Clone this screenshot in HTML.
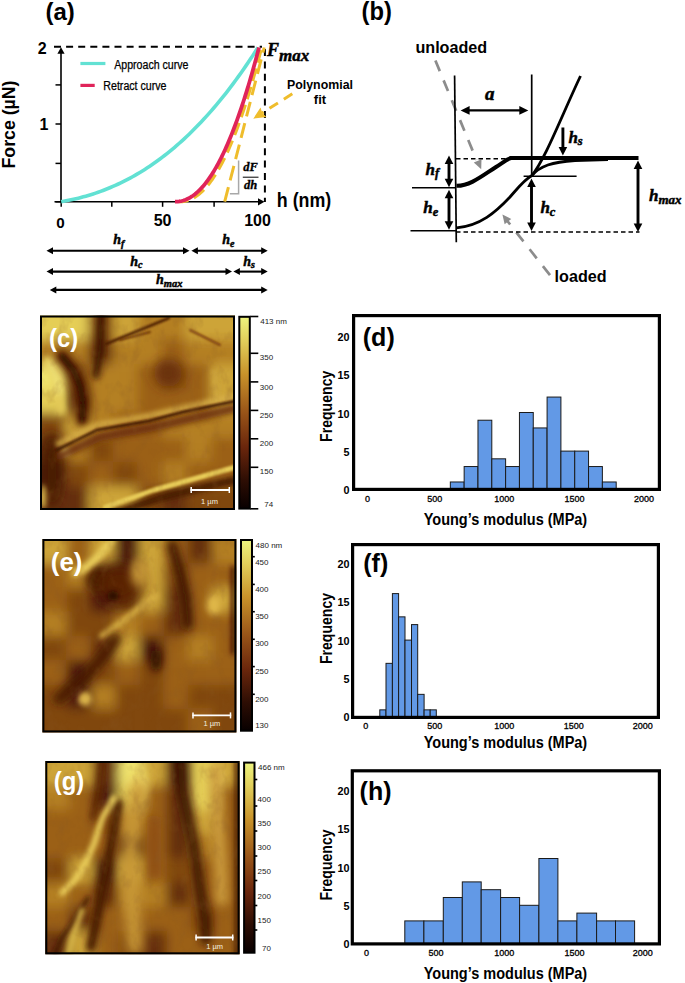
<!DOCTYPE html><html><head><meta charset="utf-8"><title>Nanoindentation figure</title><style>html,body{margin:0;padding:0;background:#fff;}body{width:685px;height:983px;overflow:hidden;position:relative;}svg{position:absolute;left:0;top:0;}</style></head><body>
<svg width="685" height="983" viewBox="0 0 685 983">
<defs>
<linearGradient id="cb" x1="0" y1="0" x2="0" y2="1">
<stop offset="0" stop-color="#eef47e"/><stop offset="0.12" stop-color="#e2d05c"/><stop offset="0.3" stop-color="#c8922a"/><stop offset="0.5" stop-color="#985418"/><stop offset="0.68" stop-color="#6a260c"/><stop offset="0.85" stop-color="#2e0e04"/><stop offset="1" stop-color="#080000"/>
</linearGradient>
<filter id="b1" filterUnits="userSpaceOnUse" x="0" y="290" width="300" height="693"><feGaussianBlur stdDeviation="1.2"/></filter>
<filter id="b2" filterUnits="userSpaceOnUse" x="0" y="290" width="300" height="693"><feGaussianBlur stdDeviation="2.5"/></filter>
<filter id="b4" filterUnits="userSpaceOnUse" x="0" y="290" width="300" height="693"><feGaussianBlur stdDeviation="4"/></filter>
<filter id="b6" filterUnits="userSpaceOnUse" x="0" y="290" width="300" height="693"><feGaussianBlur stdDeviation="6"/></filter>
<filter id="b3" filterUnits="userSpaceOnUse" x="0" y="290" width="300" height="693"><feGaussianBlur stdDeviation="3"/></filter>
<filter id="b5" filterUnits="userSpaceOnUse" x="0" y="290" width="300" height="693"><feGaussianBlur stdDeviation="5"/></filter>
<filter id="b8" filterUnits="userSpaceOnUse" x="0" y="290" width="300" height="693"><feGaussianBlur stdDeviation="8"/></filter>
<filter id="b12" filterUnits="userSpaceOnUse" x="0" y="290" width="300" height="693"><feGaussianBlur stdDeviation="12"/></filter>
<filter id="b10" filterUnits="userSpaceOnUse" x="0" y="290" width="300" height="693"><feGaussianBlur stdDeviation="10"/></filter>
<filter id="tex" filterUnits="userSpaceOnUse" x="0" y="300" width="250" height="683"><feTurbulence type="fractalNoise" baseFrequency="0.09 0.06" numOctaves="3" seed="7" result="n"/><feColorMatrix in="n" type="matrix" values="0 0 0 0 0.25  0 0 0 0 0.1  0 0 0 0 0.02  1.6 0 0 0 -0.78" /></filter>
<filter id="tex2" filterUnits="userSpaceOnUse" x="0" y="300" width="250" height="683"><feTurbulence type="fractalNoise" baseFrequency="0.07 0.05" numOctaves="3" seed="21" result="n"/><feColorMatrix in="n" type="matrix" values="0 0 0 0 0.95  0 0 0 0 0.8  0 0 0 0 0.35  0 1.4 0 0 -0.78" /></filter>
<clipPath id="cc"><rect x="40" y="315.5" width="195" height="194.5"/></clipPath>
<clipPath id="ce"><rect x="42.4" y="539" width="194" height="193.4"/></clipPath>
<clipPath id="cg"><rect x="45.3" y="761" width="194.3" height="193.3"/></clipPath>
</defs>
<text x="45.5" y="19.8" style="font-family:&quot;Liberation Sans&quot;,sans-serif;font-size:24px;font-weight:bold;" text-anchor="start" fill="#000">(a)</text>
<line x1="61" y1="202.5" x2="61" y2="53" stroke="#000" stroke-width="1.6"/>
<polygon points="61,47.2 64.6,53.7 57.4,53.7" fill="#000"/>
<line x1="54.5" y1="201.8" x2="258" y2="201.8" stroke="#000" stroke-width="1.6"/>
<polygon points="264.5,201.8 258,205.4 258,198.2" fill="#000"/>
<line x1="55.5" y1="84.9" x2="61" y2="84.9" stroke="#000" stroke-width="1.5"/>
<line x1="55.5" y1="124" x2="61" y2="124" stroke="#000" stroke-width="1.5"/>
<line x1="55.5" y1="163.4" x2="61" y2="163.4" stroke="#000" stroke-width="1.5"/>
<line x1="55.5" y1="201.8" x2="61" y2="201.8" stroke="#000" stroke-width="1.5"/>
<line x1="61.2" y1="201.8" x2="61.2" y2="206.8" stroke="#000" stroke-width="1.5"/>
<line x1="111.8" y1="201.8" x2="111.8" y2="206.8" stroke="#000" stroke-width="1.5"/>
<line x1="162.6" y1="201.8" x2="162.6" y2="206.8" stroke="#000" stroke-width="1.5"/>
<line x1="214.1" y1="201.8" x2="214.1" y2="206.8" stroke="#000" stroke-width="1.5"/>
<line x1="54" y1="46.8" x2="262" y2="46.8" stroke="#000" stroke-width="2" stroke-dasharray="7 5.1"/>
<line x1="264.9" y1="49" x2="264.9" y2="202" stroke="#000" stroke-width="2" stroke-dasharray="7 5.4"/>
<text x="42.3" y="53.6" style="font-family:&quot;Liberation Sans&quot;,sans-serif;font-size:16px;font-weight:bold;" text-anchor="middle" fill="#000">2</text>
<text x="44" y="129.8" style="font-family:&quot;Liberation Sans&quot;,sans-serif;font-size:16px;font-weight:bold;" text-anchor="middle" fill="#000">1</text>
<text x="60.6" y="228.3" style="font-family:&quot;Liberation Sans&quot;,sans-serif;font-size:15.2px;font-weight:bold;" text-anchor="middle" fill="#000">0</text>
<text x="162.6" y="225.5" style="font-family:&quot;Liberation Sans&quot;,sans-serif;font-size:16px;font-weight:bold;" text-anchor="middle" fill="#000">50</text>
<text x="257.5" y="225.5" style="font-family:&quot;Liberation Sans&quot;,sans-serif;font-size:16px;font-weight:bold;" text-anchor="middle" fill="#000">100</text>
<text x="276.8" y="207.3" style="font-family:&quot;Liberation Sans&quot;,sans-serif;font-size:19.5px;font-weight:bold;" text-anchor="start" fill="#000" textLength="54.5" lengthAdjust="spacingAndGlyphs">h (nm)</text>
<text transform="translate(14.8,124.5) rotate(-90)" x="0" y="0" text-anchor="middle" style="font-family:&quot;Liberation Sans&quot;,sans-serif;font-size:18.4px;font-weight:bold" textLength="88" lengthAdjust="spacingAndGlyphs">Force (µN)</text>
<line x1="80.4" y1="63.5" x2="105.4" y2="63.5" stroke="#62e1d3" stroke-width="3.2"/>
<line x1="80.4" y1="85.4" x2="94.7" y2="85.4" stroke="#e0245a" stroke-width="3.2"/>
<text x="114.2" y="69.2" style="font-family:&quot;Liberation Sans&quot;,sans-serif;font-size:12px;font-weight:normal;" text-anchor="start" fill="#000" textLength="74.3" lengthAdjust="spacingAndGlyphs" stroke="#000" stroke-width="0.25">Approach curve</text>
<text x="103.3" y="89.6" style="font-family:&quot;Liberation Sans&quot;,sans-serif;font-size:12px;font-weight:normal;" text-anchor="start" fill="#000" textLength="63.2" lengthAdjust="spacingAndGlyphs" stroke="#000" stroke-width="0.25">Retract curve</text>
<path d="M61.2,201.7 L63.66,201.28 L66.12,200.82 L68.58,200.34 L71.04,199.83 L73.5,199.3 L75.96,198.73 L78.42,198.13 L80.88,197.51 L83.34,196.85 L85.8,196.17 L88.26,195.45 L90.72,194.7 L93.18,193.92 L95.64,193.1 L98.1,192.26 L100.56,191.38 L103.02,190.46 L105.48,189.51 L107.94,188.53 L110.4,187.52 L112.86,186.46 L115.32,185.38 L117.78,184.25 L120.24,183.09 L122.7,181.9 L125.16,180.66 L127.62,179.39 L130.08,178.08 L132.54,176.73 L135,175.34 L137.46,173.92 L139.92,172.45 L142.38,170.95 L144.84,169.4 L147.3,167.81 L149.76,166.18 L152.22,164.51 L154.68,162.8 L157.14,161.04 L159.6,159.25 L162.06,157.41 L164.52,155.52 L166.98,153.59 L169.44,151.62 L171.9,149.6 L174.36,147.54 L176.82,145.43 L179.28,143.27 L181.74,141.07 L184.2,138.82 L186.66,136.52 L189.12,134.18 L191.58,131.79 L194.04,129.34 L196.5,126.85 L198.96,124.31 L201.42,121.73 L203.88,119.09 L206.34,116.4 L208.8,113.65 L211.26,110.86 L213.72,108.02 L216.18,105.12 L218.64,102.17 L221.1,99.17 L223.56,96.11 L226.02,93.01 L228.48,89.84 L230.94,86.62 L233.4,83.35 L235.86,80.02 L238.32,76.64 L240.78,73.2 L243.24,69.7 L245.7,66.14 L248.16,62.53 L250.62,58.86 L253.08,55.13 L255.54,51.35 L258,47.5" fill="none" stroke="#62e1d3" stroke-width="3.6"/>
<line x1="224.7" y1="201.7" x2="264.2" y2="47.5" stroke="#efbd2c" stroke-width="3" stroke-dasharray="15 7"/>
<path d="M179.5,201.7 L180.87,201.67 L182.23,201.58 L183.6,201.41 L184.97,201.18 L186.33,200.86 L187.7,200.48 L189.07,200.01 L190.43,199.46 L191.8,198.83 L193.17,198.12 L194.53,197.33 L195.9,196.45 L197.27,195.49 L198.63,194.44 L200,193.31 L201.37,192.09 L202.73,190.79 L204.1,189.4 L205.47,187.92 L206.83,186.35 L208.2,184.69 L209.57,182.95 L210.93,181.11 L212.3,179.19 L213.67,177.17 L215.03,175.07 L216.4,172.87 L217.77,170.58 L219.13,168.2 L220.5,165.73 L221.87,163.17 L223.23,160.51 L224.6,157.76 L225.97,154.92 L227.33,151.98 L228.7,148.95 L230.07,145.83 L231.43,142.61 L232.8,139.3 L234.17,135.89 L235.53,132.39 L236.9,128.79 L238.27,125.1 L239.63,121.31 L241,117.42 L242.37,113.44 L243.73,109.36 L245.1,105.19 L246.47,100.92 L247.83,96.55 L249.2,92.09 L250.57,87.52 L251.93,82.86 L253.3,78.11 L254.67,73.25 L256.03,68.3 L257.4,63.25 L258.77,58.1 L260.13,52.85 L261.5,47.5" fill="none" stroke="#efbd2c" stroke-width="3.4" stroke-dasharray="13 6" stroke-dashoffset="4"/>
<path d="M175,201.7 L176.05,201.68 L177.1,201.63 L178.15,201.54 L179.2,201.41 L180.25,201.24 L181.3,201.03 L182.35,200.77 L183.4,200.48 L184.45,200.13 L185.5,199.74 L186.55,199.31 L187.6,198.83 L188.65,198.3 L189.7,197.73 L190.75,197.11 L191.8,196.45 L192.85,195.74 L193.9,194.98 L194.95,194.17 L196,193.31 L197.05,192.4 L198.1,191.45 L199.15,190.45 L200.2,189.4 L201.25,188.29 L202.3,187.14 L203.35,185.94 L204.4,184.69 L205.45,183.39 L206.5,182.04 L207.55,180.64 L208.6,179.19 L209.65,177.69 L210.7,176.13 L211.75,174.53 L212.8,172.87 L213.85,171.16 L214.9,169.4 L215.95,167.59 L217,165.73 L218.05,163.82 L219.1,161.85 L220.15,159.83 L221.2,157.76 L222.25,155.64 L223.3,153.46 L224.35,151.23 L225.4,148.95 L226.45,146.62 L227.5,144.23 L228.55,141.79 L229.6,139.3 L230.65,136.75 L231.7,134.15 L232.75,131.5 L233.8,128.79 L234.85,126.03 L235.9,123.21 L236.95,120.34 L238,117.42 L239.05,114.45 L240.1,111.41 L241.15,108.33 L242.2,105.19 L243.25,102 L244.3,98.75 L245.35,95.44 L246.4,92.09 L247.45,88.67 L248.5,85.21 L249.55,81.68 L250.6,78.11 L251.65,74.47 L252.7,70.79 L253.75,67.04 L254.8,63.25 L255.85,59.39 L256.9,55.48 L257.95,51.52 L259,47.5" fill="none" stroke="#e0245a" stroke-width="3.8"/>
<polyline points="229.9,193.7 238.6,193.7 238.6,160.6" fill="none" stroke="#a8a8a8" stroke-width="1.5"/>
<text x="250.6" y="171.2" style="font-family:&quot;Liberation Serif&quot;,serif;font-size:12.5px;font-weight:bold;font-style:italic;" text-anchor="middle" fill="#000" stroke="#000" stroke-width="0.35">dF</text>
<line x1="242.8" y1="177.2" x2="258.5" y2="177.2" stroke="#000" stroke-width="1"/>
<text x="250.6" y="188.6" style="font-family:&quot;Liberation Serif&quot;,serif;font-size:12.5px;font-weight:bold;font-style:italic;" text-anchor="middle" fill="#000" stroke="#000" stroke-width="0.35">dh</text>
<text x="267" y="56" style="font-family:&quot;Liberation Serif&quot;,serif;font-size:18px;font-weight:bold;font-style:italic" stroke="#000" stroke-width="0.45">F<tspan dy="4.5" style="font-size:17px">max</tspan></text>
<text x="320" y="88.6" style="font-family:&quot;Liberation Sans&quot;,sans-serif;font-size:13px;font-weight:bold;" text-anchor="middle" fill="#000" textLength="66" lengthAdjust="spacingAndGlyphs">Polynomial</text>
<text x="320" y="104" style="font-family:&quot;Liberation Sans&quot;,sans-serif;font-size:13px;font-weight:bold;" text-anchor="middle" fill="#000">fit</text>
<line x1="292.3" y1="93.8" x2="262" y2="113" stroke="#efbd2c" stroke-width="3" stroke-dasharray="10 7"/>
<polygon points="253.3,118.7 260.52,107.6 262.26,113.11 266.45,117.1" fill="#efbd2c"/>
<line x1="51.7" y1="250.8" x2="184.3" y2="250.8" stroke="#000" stroke-width="2.1"/><polygon points="189.5,250.8 183,254.3 183,247.3" fill="#000"/><polygon points="46.5,250.8 53,247.3 53,254.3" fill="#000"/>
<line x1="196.6" y1="250.8" x2="262.5" y2="250.8" stroke="#000" stroke-width="2.1"/><polygon points="267.7,250.8 261.2,254.3 261.2,247.3" fill="#000"/><polygon points="191.4,250.8 197.9,247.3 197.9,254.3" fill="#000"/>
<line x1="51.7" y1="271.6" x2="226.8" y2="271.6" stroke="#000" stroke-width="2.1"/><polygon points="232,271.6 225.5,275.1 225.5,268.1" fill="#000"/><polygon points="46.5,271.6 53,268.1 53,275.1" fill="#000"/>
<line x1="238.6" y1="271.6" x2="262.5" y2="271.6" stroke="#000" stroke-width="2.1"/><polygon points="267.7,271.6 261.2,275.1 261.2,268.1" fill="#000"/><polygon points="233.4,271.6 239.9,268.1 239.9,275.1" fill="#000"/>
<line x1="55" y1="289.9" x2="262.5" y2="289.9" stroke="#000" stroke-width="2.1"/><polygon points="267.7,289.9 261.2,293.4 261.2,286.4" fill="#000"/><polygon points="49.8,289.9 56.3,286.4 56.3,293.4" fill="#000"/>
<text x="113.2" y="244.3" style="font-family:&quot;Liberation Serif&quot;,serif;font-size:14px;font-weight:bold;font-style:italic" stroke="#000" stroke-width="0.45">h<tspan dy="2.2" style="font-size:10px">f</tspan></text>
<text x="222.3" y="244.3" style="font-family:&quot;Liberation Serif&quot;,serif;font-size:14px;font-weight:bold;font-style:italic" stroke="#000" stroke-width="0.45">h<tspan dy="2.2" style="font-size:10px">e</tspan></text>
<text x="130.2" y="265.6" style="font-family:&quot;Liberation Serif&quot;,serif;font-size:14px;font-weight:bold;font-style:italic" stroke="#000" stroke-width="0.45">h<tspan dy="2.2" style="font-size:10px">c</tspan></text>
<text x="243.3" y="265.6" style="font-family:&quot;Liberation Serif&quot;,serif;font-size:14px;font-weight:bold;font-style:italic" stroke="#000" stroke-width="0.45">h<tspan dy="2.2" style="font-size:10px">s</tspan></text>
<text x="156" y="284.3" style="font-family:&quot;Liberation Serif&quot;,serif;font-size:14px;font-weight:bold;font-style:italic" stroke="#000" stroke-width="0.45">h<tspan dy="2.2" style="font-size:10.5px">max</tspan></text>
<text x="361.6" y="19.5" style="font-family:&quot;Liberation Sans&quot;,sans-serif;font-size:25.5px;font-weight:bold;" text-anchor="start" fill="#000" textLength="30.3" lengthAdjust="spacingAndGlyphs">(b)</text>
<text x="415.4" y="53.4" style="font-family:&quot;Liberation Sans&quot;,sans-serif;font-size:16px;font-weight:bold;" text-anchor="start" fill="#000" textLength="71.8" lengthAdjust="spacingAndGlyphs">unloaded</text>
<text x="554.6" y="282" style="font-family:&quot;Liberation Sans&quot;,sans-serif;font-size:16px;font-weight:bold;" text-anchor="start" fill="#000" textLength="52" lengthAdjust="spacingAndGlyphs">loaded</text>
<line x1="435.4" y1="60.5" x2="476.5" y2="160" stroke="#8c8c8c" stroke-width="2.7" stroke-dasharray="11.5 10"/>
<polygon points="481.2,169.2 473.79,162.59 481.5,159.27" fill="#8c8c8c"/>
<line x1="550" y1="275.2" x2="507" y2="220.5" stroke="#8c8c8c" stroke-width="2.7" stroke-dasharray="11.5 10"/>
<polygon points="502.4,214.5 511.26,218.99 504.65,224.17" fill="#8c8c8c"/>
<line x1="454.6" y1="75.5" x2="456.3" y2="242.3" stroke="#000" stroke-width="1.7"/>
<line x1="531.7" y1="74.5" x2="531.7" y2="176" stroke="#000" stroke-width="1.7"/>
<line x1="467.8" y1="110.4" x2="521.1" y2="110.4" stroke="#000" stroke-width="2.3"/><polygon points="528.3,110.4 519.3,114.8 519.3,106" fill="#000"/><polygon points="460.6,110.4 469.6,106 469.6,114.8" fill="#000"/>
<text x="485" y="100.2" style="font-family:&quot;Liberation Serif&quot;,serif;font-size:19px;font-weight:bold;font-style:italic" stroke="#000" stroke-width="0.5">a<tspan dy="4.18" style="font-size:13.68px"></tspan></text>
<line x1="412" y1="187.8" x2="456" y2="187.8" stroke="#000" stroke-width="1.6"/>
<line x1="410.5" y1="230.7" x2="456" y2="230.7" stroke="#000" stroke-width="1.6"/>
<line x1="523.6" y1="176.2" x2="576.6" y2="176.2" stroke="#000" stroke-width="1.6"/>
<line x1="456" y1="158.8" x2="511" y2="158.8" stroke="#000" stroke-width="1.5" stroke-dasharray="4.5 3"/>
<line x1="456" y1="231.9" x2="639.5" y2="231.9" stroke="#000" stroke-width="1.5" stroke-dasharray="4.5 3"/>
<path d="M456.5,185.8 C470,186 482,176 496,167 C503,162.5 507,159 511,158 L638.5,158" fill="none" stroke="#000" stroke-width="4"/>
<path d="M456.5,227.8 C480,226 496,212 510,197 C518,188 524,180 531.6,175.8 C545,160 562,115 580.5,76" fill="none" stroke="#000" stroke-width="2.8"/>
<path d="M531.6,175.8 C540,166 552,162 575,160.5 L608,159.5" fill="none" stroke="#000" stroke-width="2.8"/>
<line x1="449" y1="162.3" x2="449" y2="180.5" stroke="#000" stroke-width="2.9"/><polygon points="449,187.3 444.7,178.8 453.3,178.8" fill="#000"/><polygon points="449,155.5 453.3,164 444.7,164" fill="#000"/>
<line x1="449" y1="196.5" x2="449" y2="223" stroke="#000" stroke-width="2.9"/><polygon points="449,229.8 444.7,221.3 453.3,221.3" fill="#000"/><polygon points="449,189.7 453.3,198.2 444.7,198.2" fill="#000"/>
<line x1="531.5" y1="185.4" x2="531.5" y2="224.2" stroke="#000" stroke-width="2.9"/><polygon points="531.5,231 527.2,222.5 535.8,222.5" fill="#000"/><polygon points="531.5,178.6 535.8,187.1 527.2,187.1" fill="#000"/>
<line x1="562.9" y1="127.5" x2="562.9" y2="148.7" stroke="#000" stroke-width="2.9"/><polygon points="562.9,155.5 558.6,147 567.2,147" fill="#000"/>
<line x1="638" y1="167.4" x2="638" y2="225.1" stroke="#000" stroke-width="2.9"/><polygon points="638,231.9 633.7,223.4 642.3,223.4" fill="#000"/><polygon points="638,160.6 642.3,169.1 633.7,169.1" fill="#000"/>
<text x="425.6" y="174.6" style="font-family:&quot;Liberation Serif&quot;,serif;font-size:17px;font-weight:bold;font-style:italic" stroke="#000" stroke-width="0.45">h<tspan dy="2.8" style="font-size:12.5px">f</tspan></text>
<text x="423.2" y="213.3" style="font-family:&quot;Liberation Serif&quot;,serif;font-size:17px;font-weight:bold;font-style:italic" stroke="#000" stroke-width="0.45">h<tspan dy="2.8" style="font-size:12.5px">e</tspan></text>
<text x="540.4" y="213.3" style="font-family:&quot;Liberation Serif&quot;,serif;font-size:17px;font-weight:bold;font-style:italic" stroke="#000" stroke-width="0.45">h<tspan dy="2.8" style="font-size:12.5px">c</tspan></text>
<text x="568.4" y="142.6" style="font-family:&quot;Liberation Serif&quot;,serif;font-size:17px;font-weight:bold;font-style:italic" stroke="#000" stroke-width="0.45">h<tspan dy="2.8" style="font-size:12.5px">s</tspan></text>
<text x="649" y="201.3" style="font-family:&quot;Liberation Serif&quot;,serif;font-size:17px;font-weight:bold;font-style:italic" stroke="#000" stroke-width="0.45">h<tspan dy="2.8" style="font-size:13px">max</tspan></text>
<rect x="450.33" y="481.98" width="13.82" height="7.72" fill="#6299e6" stroke="#1a1a1a" stroke-width="1"/>
<rect x="464.15" y="466.54" width="13.82" height="23.16" fill="#6299e6" stroke="#1a1a1a" stroke-width="1"/>
<rect x="477.98" y="420.22" width="13.82" height="69.48" fill="#6299e6" stroke="#1a1a1a" stroke-width="1"/>
<rect x="491.8" y="458.82" width="13.82" height="30.88" fill="#6299e6" stroke="#1a1a1a" stroke-width="1"/>
<rect x="505.62" y="466.54" width="13.82" height="23.16" fill="#6299e6" stroke="#1a1a1a" stroke-width="1"/>
<rect x="519.44" y="412.5" width="13.82" height="77.2" fill="#6299e6" stroke="#1a1a1a" stroke-width="1"/>
<rect x="533.26" y="427.94" width="13.82" height="61.76" fill="#6299e6" stroke="#1a1a1a" stroke-width="1"/>
<rect x="547.09" y="397.06" width="13.82" height="92.64" fill="#6299e6" stroke="#1a1a1a" stroke-width="1"/>
<rect x="560.91" y="451.1" width="13.82" height="38.6" fill="#6299e6" stroke="#1a1a1a" stroke-width="1"/>
<rect x="574.73" y="451.1" width="13.82" height="38.6" fill="#6299e6" stroke="#1a1a1a" stroke-width="1"/>
<rect x="588.55" y="466.54" width="13.82" height="23.16" fill="#6299e6" stroke="#1a1a1a" stroke-width="1"/>
<rect x="602.37" y="481.98" width="13.82" height="7.72" fill="#6299e6" stroke="#1a1a1a" stroke-width="1"/>
<rect x="353.6" y="315.6" width="305.8" height="173.8" fill="none" stroke="#000" stroke-width="3.2"/>
<text x="349.5" y="341.3" style="font-family:&quot;Liberation Sans&quot;,sans-serif;font-size:10.8px;font-weight:bold;" text-anchor="end" fill="#000">20</text>
<text x="349.5" y="379.4" style="font-family:&quot;Liberation Sans&quot;,sans-serif;font-size:10.8px;font-weight:bold;" text-anchor="end" fill="#000">15</text>
<text x="349.5" y="417.7" style="font-family:&quot;Liberation Sans&quot;,sans-serif;font-size:10.8px;font-weight:bold;" text-anchor="end" fill="#000">10</text>
<text x="349.5" y="455.9" style="font-family:&quot;Liberation Sans&quot;,sans-serif;font-size:10.8px;font-weight:bold;" text-anchor="end" fill="#000">5</text>
<text x="349.5" y="494.4" style="font-family:&quot;Liberation Sans&quot;,sans-serif;font-size:10.8px;font-weight:bold;" text-anchor="end" fill="#000">0</text>
<text x="367.5" y="501.9" style="font-family:&quot;Liberation Sans&quot;,sans-serif;font-size:9px;font-weight:normal;" text-anchor="middle" fill="#000" stroke="#000" stroke-width="0.3">0</text>
<text x="434.8" y="501.9" style="font-family:&quot;Liberation Sans&quot;,sans-serif;font-size:9px;font-weight:normal;" text-anchor="middle" fill="#000" stroke="#000" stroke-width="0.3">500</text>
<text x="504.3" y="501.9" style="font-family:&quot;Liberation Sans&quot;,sans-serif;font-size:9px;font-weight:normal;" text-anchor="middle" fill="#000" stroke="#000" stroke-width="0.3">1000</text>
<text x="574.4" y="501.9" style="font-family:&quot;Liberation Sans&quot;,sans-serif;font-size:9px;font-weight:normal;" text-anchor="middle" fill="#000" stroke="#000" stroke-width="0.3">1500</text>
<text x="643.9" y="501.9" style="font-family:&quot;Liberation Sans&quot;,sans-serif;font-size:9px;font-weight:normal;" text-anchor="middle" fill="#000" stroke="#000" stroke-width="0.3">2000</text>
<text transform="translate(331.8,406.3) rotate(-90)" x="0" y="0" text-anchor="middle" style="font-family:&quot;Liberation Sans&quot;,sans-serif;font-size:15.6px;font-weight:bold" textLength="71.2" lengthAdjust="spacingAndGlyphs">Frequency</text>
<text x="423.7" y="524.5" style="font-family:&quot;Liberation Sans&quot;,sans-serif;font-size:17.2px;font-weight:bold;" text-anchor="start" fill="#000" textLength="163.5" lengthAdjust="spacingAndGlyphs">Young’s modulus (MPa)</text>
<text x="362.8" y="346" style="font-family:&quot;Liberation Sans&quot;,sans-serif;font-size:25px;font-weight:bold;" text-anchor="start" fill="#000">(d)</text>
<rect x="379.8" y="709.85" width="6.2" height="7.75" fill="#6299e6" stroke="#1a1a1a" stroke-width="1"/>
<rect x="386" y="663.35" width="6.4" height="54.25" fill="#6299e6" stroke="#1a1a1a" stroke-width="1"/>
<rect x="392.4" y="593.6" width="6.2" height="124" fill="#6299e6" stroke="#1a1a1a" stroke-width="1"/>
<rect x="398.6" y="616.85" width="6.4" height="100.75" fill="#6299e6" stroke="#1a1a1a" stroke-width="1"/>
<rect x="405" y="640.1" width="6.5" height="77.5" fill="#6299e6" stroke="#1a1a1a" stroke-width="1"/>
<rect x="411.5" y="624.6" width="6.2" height="93" fill="#6299e6" stroke="#1a1a1a" stroke-width="1"/>
<rect x="417.7" y="694.35" width="6.4" height="23.25" fill="#6299e6" stroke="#1a1a1a" stroke-width="1"/>
<rect x="424.1" y="709.85" width="6.1" height="7.75" fill="#6299e6" stroke="#1a1a1a" stroke-width="1"/>
<rect x="430.2" y="709.85" width="6.1" height="7.75" fill="#6299e6" stroke="#1a1a1a" stroke-width="1"/>
<rect x="352.6" y="544.6" width="305.8" height="172.8" fill="none" stroke="#000" stroke-width="3.2"/>
<text x="349.5" y="567.9" style="font-family:&quot;Liberation Sans&quot;,sans-serif;font-size:10.8px;font-weight:bold;" text-anchor="end" fill="#000">20</text>
<text x="349.5" y="606.1" style="font-family:&quot;Liberation Sans&quot;,sans-serif;font-size:10.8px;font-weight:bold;" text-anchor="end" fill="#000">15</text>
<text x="349.5" y="644.5" style="font-family:&quot;Liberation Sans&quot;,sans-serif;font-size:10.8px;font-weight:bold;" text-anchor="end" fill="#000">10</text>
<text x="349.5" y="682.8" style="font-family:&quot;Liberation Sans&quot;,sans-serif;font-size:10.8px;font-weight:bold;" text-anchor="end" fill="#000">5</text>
<text x="349.5" y="721.1" style="font-family:&quot;Liberation Sans&quot;,sans-serif;font-size:10.8px;font-weight:bold;" text-anchor="end" fill="#000">0</text>
<text x="365.8" y="728.7" style="font-family:&quot;Liberation Sans&quot;,sans-serif;font-size:9px;font-weight:normal;" text-anchor="middle" fill="#000" stroke="#000" stroke-width="0.3">0</text>
<text x="434.8" y="728.7" style="font-family:&quot;Liberation Sans&quot;,sans-serif;font-size:9px;font-weight:normal;" text-anchor="middle" fill="#000" stroke="#000" stroke-width="0.3">500</text>
<text x="504.3" y="728.7" style="font-family:&quot;Liberation Sans&quot;,sans-serif;font-size:9px;font-weight:normal;" text-anchor="middle" fill="#000" stroke="#000" stroke-width="0.3">1000</text>
<text x="573.8" y="728.7" style="font-family:&quot;Liberation Sans&quot;,sans-serif;font-size:9px;font-weight:normal;" text-anchor="middle" fill="#000" stroke="#000" stroke-width="0.3">1500</text>
<text x="642.8" y="728.7" style="font-family:&quot;Liberation Sans&quot;,sans-serif;font-size:9px;font-weight:normal;" text-anchor="middle" fill="#000" stroke="#000" stroke-width="0.3">2000</text>
<text transform="translate(331.8,628.5) rotate(-90)" x="0" y="0" text-anchor="middle" style="font-family:&quot;Liberation Sans&quot;,sans-serif;font-size:15.6px;font-weight:bold" textLength="71.2" lengthAdjust="spacingAndGlyphs">Frequency</text>
<text x="423.7" y="747.9" style="font-family:&quot;Liberation Sans&quot;,sans-serif;font-size:17.2px;font-weight:bold;" text-anchor="start" fill="#000" textLength="163.5" lengthAdjust="spacingAndGlyphs">Young’s modulus (MPa)</text>
<text x="363.3" y="572" style="font-family:&quot;Liberation Sans&quot;,sans-serif;font-size:25px;font-weight:bold;" text-anchor="start" fill="#000">(f)</text>
<rect x="404.8" y="920.9" width="19.1" height="23.4" fill="#6299e6" stroke="#1a1a1a" stroke-width="1"/>
<rect x="423.9" y="920.9" width="19.4" height="23.4" fill="#6299e6" stroke="#1a1a1a" stroke-width="1"/>
<rect x="443.3" y="897.5" width="19" height="46.8" fill="#6299e6" stroke="#1a1a1a" stroke-width="1"/>
<rect x="462.3" y="881.9" width="18.9" height="62.4" fill="#6299e6" stroke="#1a1a1a" stroke-width="1"/>
<rect x="481.2" y="889.7" width="19.4" height="54.6" fill="#6299e6" stroke="#1a1a1a" stroke-width="1"/>
<rect x="500.6" y="897.5" width="19" height="46.8" fill="#6299e6" stroke="#1a1a1a" stroke-width="1"/>
<rect x="519.6" y="905.3" width="19.3" height="39" fill="#6299e6" stroke="#1a1a1a" stroke-width="1"/>
<rect x="538.9" y="858.5" width="19" height="85.8" fill="#6299e6" stroke="#1a1a1a" stroke-width="1"/>
<rect x="557.9" y="920.9" width="19" height="23.4" fill="#6299e6" stroke="#1a1a1a" stroke-width="1"/>
<rect x="576.9" y="913.1" width="19.7" height="31.2" fill="#6299e6" stroke="#1a1a1a" stroke-width="1"/>
<rect x="596.6" y="920.9" width="18.9" height="23.4" fill="#6299e6" stroke="#1a1a1a" stroke-width="1"/>
<rect x="615.5" y="920.9" width="19.1" height="23.4" fill="#6299e6" stroke="#1a1a1a" stroke-width="1"/>
<rect x="352.3" y="770.8" width="307.1" height="173.1" fill="none" stroke="#000" stroke-width="3.2"/>
<text x="349.5" y="794.9" style="font-family:&quot;Liberation Sans&quot;,sans-serif;font-size:10.8px;font-weight:bold;" text-anchor="end" fill="#000">20</text>
<text x="349.5" y="833.3" style="font-family:&quot;Liberation Sans&quot;,sans-serif;font-size:10.8px;font-weight:bold;" text-anchor="end" fill="#000">15</text>
<text x="349.5" y="871.6" style="font-family:&quot;Liberation Sans&quot;,sans-serif;font-size:10.8px;font-weight:bold;" text-anchor="end" fill="#000">10</text>
<text x="349.5" y="909.9" style="font-family:&quot;Liberation Sans&quot;,sans-serif;font-size:10.8px;font-weight:bold;" text-anchor="end" fill="#000">5</text>
<text x="349.5" y="948.2" style="font-family:&quot;Liberation Sans&quot;,sans-serif;font-size:10.8px;font-weight:bold;" text-anchor="end" fill="#000">0</text>
<text x="366.4" y="956.2" style="font-family:&quot;Liberation Sans&quot;,sans-serif;font-size:9px;font-weight:normal;" text-anchor="middle" fill="#000" stroke="#000" stroke-width="0.3">0</text>
<text x="435.9" y="956.2" style="font-family:&quot;Liberation Sans&quot;,sans-serif;font-size:9px;font-weight:normal;" text-anchor="middle" fill="#000" stroke="#000" stroke-width="0.3">500</text>
<text x="504.3" y="956.2" style="font-family:&quot;Liberation Sans&quot;,sans-serif;font-size:9px;font-weight:normal;" text-anchor="middle" fill="#000" stroke="#000" stroke-width="0.3">1000</text>
<text x="574.4" y="956.2" style="font-family:&quot;Liberation Sans&quot;,sans-serif;font-size:9px;font-weight:normal;" text-anchor="middle" fill="#000" stroke="#000" stroke-width="0.3">1500</text>
<text x="642.8" y="956.2" style="font-family:&quot;Liberation Sans&quot;,sans-serif;font-size:9px;font-weight:normal;" text-anchor="middle" fill="#000" stroke="#000" stroke-width="0.3">2000</text>
<text transform="translate(331.8,865) rotate(-90)" x="0" y="0" text-anchor="middle" style="font-family:&quot;Liberation Sans&quot;,sans-serif;font-size:15.6px;font-weight:bold" textLength="71.2" lengthAdjust="spacingAndGlyphs">Frequency</text>
<text x="423.7" y="978.8" style="font-family:&quot;Liberation Sans&quot;,sans-serif;font-size:17.2px;font-weight:bold;" text-anchor="start" fill="#000" textLength="163.5" lengthAdjust="spacingAndGlyphs">Young’s modulus (MPa)</text>
<text x="359.6" y="800" style="font-family:&quot;Liberation Sans&quot;,sans-serif;font-size:25px;font-weight:bold;" text-anchor="start" fill="#000">(h)</text>
<g clip-path="url(#cc)"><g filter="url(#b6)"><rect x="28" y="303.5" width="36.88" height="36.88" fill="#e5ce56"/><rect x="64.38" y="303.5" width="24.88" height="36.88" fill="#e5ce56"/><rect x="88.75" y="303.5" width="24.88" height="36.88" fill="#804611"/><rect x="113.12" y="303.5" width="24.88" height="36.88" fill="#cda437"/><rect x="137.5" y="303.5" width="24.88" height="36.88" fill="#b47f24"/><rect x="161.88" y="303.5" width="24.88" height="36.88" fill="#b47f24"/><rect x="186.25" y="303.5" width="24.88" height="36.88" fill="#cda437"/><rect x="210.62" y="303.5" width="36.88" height="36.88" fill="#cda437"/><rect x="28" y="339.88" width="36.88" height="24.88" fill="#b47f24"/><rect x="64.38" y="339.88" width="24.88" height="24.88" fill="#b47f24"/><rect x="88.75" y="339.88" width="24.88" height="24.88" fill="#652e0b"/><rect x="113.12" y="339.88" width="24.88" height="24.88" fill="#b47f24"/><rect x="137.5" y="339.88" width="24.88" height="24.88" fill="#b47f24"/><rect x="161.88" y="339.88" width="24.88" height="24.88" fill="#9b6018"/><rect x="186.25" y="339.88" width="24.88" height="24.88" fill="#b47f24"/><rect x="210.62" y="339.88" width="36.88" height="24.88" fill="#b47f24"/><rect x="28" y="364.25" width="36.88" height="24.88" fill="#f0e46e"/><rect x="64.38" y="364.25" width="24.88" height="24.88" fill="#804611"/><rect x="88.75" y="364.25" width="24.88" height="24.88" fill="#b47f24"/><rect x="113.12" y="364.25" width="24.88" height="24.88" fill="#b47f24"/><rect x="137.5" y="364.25" width="24.88" height="24.88" fill="#9b6018"/><rect x="161.88" y="364.25" width="24.88" height="24.88" fill="#804611"/><rect x="186.25" y="364.25" width="24.88" height="24.88" fill="#9b6018"/><rect x="210.62" y="364.25" width="36.88" height="24.88" fill="#cda437"/><rect x="28" y="388.62" width="36.88" height="24.88" fill="#e5ce56"/><rect x="64.38" y="388.62" width="24.88" height="24.88" fill="#652e0b"/><rect x="88.75" y="388.62" width="24.88" height="24.88" fill="#b47f24"/><rect x="113.12" y="388.62" width="24.88" height="24.88" fill="#b47f24"/><rect x="137.5" y="388.62" width="24.88" height="24.88" fill="#9b6018"/><rect x="161.88" y="388.62" width="24.88" height="24.88" fill="#9b6018"/><rect x="186.25" y="388.62" width="24.88" height="24.88" fill="#9b6018"/><rect x="210.62" y="388.62" width="36.88" height="24.88" fill="#cda437"/><rect x="28" y="413" width="36.88" height="24.88" fill="#804611"/><rect x="64.38" y="413" width="24.88" height="24.88" fill="#cda437"/><rect x="88.75" y="413" width="24.88" height="24.88" fill="#b47f24"/><rect x="113.12" y="413" width="24.88" height="24.88" fill="#9b6018"/><rect x="137.5" y="413" width="24.88" height="24.88" fill="#9b6018"/><rect x="161.88" y="413" width="24.88" height="24.88" fill="#b47f24"/><rect x="186.25" y="413" width="24.88" height="24.88" fill="#b47f24"/><rect x="210.62" y="413" width="36.88" height="24.88" fill="#b47f24"/><rect x="28" y="437.38" width="36.88" height="24.88" fill="#652e0b"/><rect x="64.38" y="437.38" width="24.88" height="24.88" fill="#b47f24"/><rect x="88.75" y="437.38" width="24.88" height="24.88" fill="#804611"/><rect x="113.12" y="437.38" width="24.88" height="24.88" fill="#9b6018"/><rect x="137.5" y="437.38" width="24.88" height="24.88" fill="#9b6018"/><rect x="161.88" y="437.38" width="24.88" height="24.88" fill="#9b6018"/><rect x="186.25" y="437.38" width="24.88" height="24.88" fill="#b47f24"/><rect x="210.62" y="437.38" width="36.88" height="24.88" fill="#9b6018"/><rect x="28" y="461.75" width="36.88" height="24.88" fill="#481907"/><rect x="64.38" y="461.75" width="24.88" height="24.88" fill="#804611"/><rect x="88.75" y="461.75" width="24.88" height="24.88" fill="#9b6018"/><rect x="113.12" y="461.75" width="24.88" height="24.88" fill="#804611"/><rect x="137.5" y="461.75" width="24.88" height="24.88" fill="#9b6018"/><rect x="161.88" y="461.75" width="24.88" height="24.88" fill="#b47f24"/><rect x="186.25" y="461.75" width="24.88" height="24.88" fill="#9b6018"/><rect x="210.62" y="461.75" width="36.88" height="24.88" fill="#9b6018"/><rect x="28" y="486.12" width="36.88" height="36.88" fill="#652e0b"/><rect x="64.38" y="486.12" width="24.88" height="36.88" fill="#652e0b"/><rect x="88.75" y="486.12" width="24.88" height="36.88" fill="#cda437"/><rect x="113.12" y="486.12" width="24.88" height="36.88" fill="#cda437"/><rect x="137.5" y="486.12" width="24.88" height="36.88" fill="#804611"/><rect x="161.88" y="486.12" width="24.88" height="36.88" fill="#652e0b"/><rect x="186.25" y="486.12" width="24.88" height="36.88" fill="#804611"/><rect x="210.62" y="486.12" width="36.88" height="36.88" fill="#804611"/></g><ellipse cx="52" cy="470" rx="10" ry="38" fill="#4a1a05" filter="url(#b6)"/><path d="M48,360 L55,374 L59,392 L61,410" fill="none" stroke="#e6cc58" stroke-width="9" stroke-linecap="round" stroke-linejoin="round" filter="url(#b3)"/><path d="M50,364 L56,377 L59,392" fill="none" stroke="#f0e47a" stroke-width="6" stroke-linecap="round" stroke-linejoin="round" filter="url(#b3)"/><path d="M62,356 L74,371 L80,386 L83,402 L82,420" fill="none" stroke="#5a2406" stroke-width="14" stroke-linecap="round" stroke-linejoin="round" filter="url(#b5)"/><path d="M62,356 L74,371 L80,386 L83,402 L82,420" fill="none" stroke="#2a0a02" stroke-width="5" stroke-linecap="round" stroke-linejoin="round" filter="url(#b2)"/><path d="M101,315 L100,349 L96,375" fill="none" stroke="#3e1404" stroke-width="8" stroke-linecap="round" stroke-linejoin="round" filter="url(#b3)"/><path d="M106,344 L140,330 L169,318" fill="none" stroke="#4a1a05" stroke-width="2.5" stroke-linecap="round" stroke-linejoin="round" filter="url(#b1)"/><path d="M120,340 L150,332" fill="none" stroke="#6a3008" stroke-width="2" stroke-linecap="round" stroke-linejoin="round" filter="url(#b1)"/><path d="M190,330 L220,345" fill="none" stroke="#7a3a0c" stroke-width="2" stroke-linecap="round" stroke-linejoin="round" filter="url(#b1)"/><path d="M214,372 L216,401" fill="none" stroke="#d0a840" stroke-width="5" stroke-linecap="round" stroke-linejoin="round" filter="url(#b2)"/><path d="M58,444 L97,425 L149,416 L236,396" fill="none" stroke="#d8b048" stroke-width="5" stroke-linecap="round" stroke-linejoin="round" filter="url(#b2)"/><ellipse cx="66" cy="452" rx="5" ry="5" fill="#ecd868" filter="url(#b2)"/><path d="M60,456 L100,437 L150,428 L236,408" fill="none" stroke="#6a2e0a" stroke-width="8" stroke-linecap="round" stroke-linejoin="round" filter="url(#b3)"/><path d="M57,450 L97,430 L149,421 L183,412 L236,401" fill="none" stroke="#3a1204" stroke-width="2.5" stroke-linecap="round" stroke-linejoin="round" filter="url(#b1)"/><path d="M112,514 L160,498 L200,488 L236,480" fill="none" stroke="#4a1a05" stroke-width="8" stroke-linecap="round" stroke-linejoin="round" filter="url(#b2)"/><path d="M106,507 L154,490 L197,478 L236,467" fill="none" stroke="#e8cc58" stroke-width="5" stroke-linecap="round" stroke-linejoin="round" filter="url(#b1)"/><ellipse cx="43" cy="497" rx="3" ry="12" fill="#e0c050" filter="url(#b2)"/><ellipse cx="168" cy="373" rx="14" ry="14" fill="#6a3008" filter="url(#b6)"/><rect x="40" y="315.5" width="195" height="194.5" filter="url(#tex)" opacity="0.4"/></g>
<rect x="41" y="316.5" width="193" height="192.5" fill="none" stroke="#000" stroke-width="2"/>
<line x1="190.5" y1="490" x2="230" y2="490" stroke="#fff" stroke-width="1.8"/>
<line x1="191.2" y1="487" x2="191.2" y2="493" stroke="#fff" stroke-width="1.5"/>
<line x1="229.3" y1="487" x2="229.3" y2="493" stroke="#fff" stroke-width="1.5"/>
<text x="209.5" y="504.2" style="font-family:&quot;Liberation Sans&quot;,sans-serif;font-size:7.5px;font-weight:normal;" text-anchor="middle" fill="#f4f0e0">1 µm</text>
<text x="49" y="346.6" style="font-family:&quot;Liberation Sans&quot;,sans-serif;font-size:26px;font-weight:bold;" text-anchor="start" fill="#fff" textLength="29.2" lengthAdjust="spacingAndGlyphs">(c)</text>
<rect x="239.3" y="316.8" width="10.5" height="191.8" fill="url(#cb)" stroke="#000" stroke-width="2"/>
<line x1="250.3" y1="316.5" x2="258.3" y2="316.5" stroke="#000" stroke-width="1.6"/>
<line x1="250.3" y1="353.3" x2="258.3" y2="353.3" stroke="#000" stroke-width="1.6"/>
<line x1="250.3" y1="381.9" x2="258.3" y2="381.9" stroke="#000" stroke-width="1.6"/>
<line x1="250.3" y1="410.4" x2="258.3" y2="410.4" stroke="#000" stroke-width="1.6"/>
<line x1="250.3" y1="438.8" x2="258.3" y2="438.8" stroke="#000" stroke-width="1.6"/>
<line x1="250.3" y1="467.3" x2="258.3" y2="467.3" stroke="#000" stroke-width="1.6"/>
<line x1="250.3" y1="508.8" x2="258.3" y2="508.8" stroke="#000" stroke-width="1.6"/>
<text x="260.2" y="324.4" style="font-family:&quot;Liberation Sans&quot;,sans-serif;font-size:8px;font-weight:normal;" text-anchor="start" fill="#222">413 nm</text>
<text x="273.1" y="360.4" style="font-family:&quot;Liberation Sans&quot;,sans-serif;font-size:8px;font-weight:normal;" text-anchor="end" fill="#222">350</text>
<text x="273.1" y="389.6" style="font-family:&quot;Liberation Sans&quot;,sans-serif;font-size:8px;font-weight:normal;" text-anchor="end" fill="#222">300</text>
<text x="273.1" y="417.5" style="font-family:&quot;Liberation Sans&quot;,sans-serif;font-size:8px;font-weight:normal;" text-anchor="end" fill="#222">250</text>
<text x="273.1" y="445.8" style="font-family:&quot;Liberation Sans&quot;,sans-serif;font-size:8px;font-weight:normal;" text-anchor="end" fill="#222">200</text>
<text x="273.1" y="474.4" style="font-family:&quot;Liberation Sans&quot;,sans-serif;font-size:8px;font-weight:normal;" text-anchor="end" fill="#222">150</text>
<text x="273.1" y="506.65" style="font-family:&quot;Liberation Sans&quot;,sans-serif;font-size:8px;font-weight:normal;" text-anchor="end" fill="#222">74</text>
<g clip-path="url(#ce)"><g filter="url(#b6)"><rect x="30.4" y="527" width="36.75" height="36.75" fill="#cda437"/><rect x="66.65" y="527" width="24.75" height="36.75" fill="#9b6018"/><rect x="90.9" y="527" width="24.75" height="36.75" fill="#cda437"/><rect x="115.15" y="527" width="24.75" height="36.75" fill="#481907"/><rect x="139.4" y="527" width="24.75" height="36.75" fill="#cda437"/><rect x="163.65" y="527" width="24.75" height="36.75" fill="#9b6018"/><rect x="187.9" y="527" width="24.75" height="36.75" fill="#652e0b"/><rect x="212.15" y="527" width="36.75" height="36.75" fill="#b47f24"/><rect x="30.4" y="563.25" width="36.75" height="24.75" fill="#9b6018"/><rect x="66.65" y="563.25" width="24.75" height="24.75" fill="#b47f24"/><rect x="90.9" y="563.25" width="24.75" height="24.75" fill="#481907"/><rect x="115.15" y="563.25" width="24.75" height="24.75" fill="#481907"/><rect x="139.4" y="563.25" width="24.75" height="24.75" fill="#cda437"/><rect x="163.65" y="563.25" width="24.75" height="24.75" fill="#804611"/><rect x="187.9" y="563.25" width="24.75" height="24.75" fill="#9b6018"/><rect x="212.15" y="563.25" width="36.75" height="24.75" fill="#9b6018"/><rect x="30.4" y="587.5" width="36.75" height="24.75" fill="#9b6018"/><rect x="66.65" y="587.5" width="24.75" height="24.75" fill="#804611"/><rect x="90.9" y="587.5" width="24.75" height="24.75" fill="#481907"/><rect x="115.15" y="587.5" width="24.75" height="24.75" fill="#652e0b"/><rect x="139.4" y="587.5" width="24.75" height="24.75" fill="#cda437"/><rect x="163.65" y="587.5" width="24.75" height="24.75" fill="#652e0b"/><rect x="187.9" y="587.5" width="24.75" height="24.75" fill="#9b6018"/><rect x="212.15" y="587.5" width="36.75" height="24.75" fill="#cda437"/><rect x="30.4" y="611.75" width="36.75" height="24.75" fill="#b47f24"/><rect x="66.65" y="611.75" width="24.75" height="24.75" fill="#804611"/><rect x="90.9" y="611.75" width="24.75" height="24.75" fill="#804611"/><rect x="115.15" y="611.75" width="24.75" height="24.75" fill="#b47f24"/><rect x="139.4" y="611.75" width="24.75" height="24.75" fill="#9b6018"/><rect x="163.65" y="611.75" width="24.75" height="24.75" fill="#652e0b"/><rect x="187.9" y="611.75" width="24.75" height="24.75" fill="#9b6018"/><rect x="212.15" y="611.75" width="36.75" height="24.75" fill="#9b6018"/><rect x="30.4" y="636" width="36.75" height="24.75" fill="#804611"/><rect x="66.65" y="636" width="24.75" height="24.75" fill="#9b6018"/><rect x="90.9" y="636" width="24.75" height="24.75" fill="#652e0b"/><rect x="115.15" y="636" width="24.75" height="24.75" fill="#cda437"/><rect x="139.4" y="636" width="24.75" height="24.75" fill="#481907"/><rect x="163.65" y="636" width="24.75" height="24.75" fill="#9b6018"/><rect x="187.9" y="636" width="24.75" height="24.75" fill="#b47f24"/><rect x="212.15" y="636" width="36.75" height="24.75" fill="#9b6018"/><rect x="30.4" y="660.25" width="36.75" height="24.75" fill="#9b6018"/><rect x="66.65" y="660.25" width="24.75" height="24.75" fill="#481907"/><rect x="90.9" y="660.25" width="24.75" height="24.75" fill="#804611"/><rect x="115.15" y="660.25" width="24.75" height="24.75" fill="#9b6018"/><rect x="139.4" y="660.25" width="24.75" height="24.75" fill="#804611"/><rect x="163.65" y="660.25" width="24.75" height="24.75" fill="#9b6018"/><rect x="187.9" y="660.25" width="24.75" height="24.75" fill="#9b6018"/><rect x="212.15" y="660.25" width="36.75" height="24.75" fill="#9b6018"/><rect x="30.4" y="684.5" width="36.75" height="24.75" fill="#804611"/><rect x="66.65" y="684.5" width="24.75" height="24.75" fill="#481907"/><rect x="90.9" y="684.5" width="24.75" height="24.75" fill="#b47f24"/><rect x="115.15" y="684.5" width="24.75" height="24.75" fill="#804611"/><rect x="139.4" y="684.5" width="24.75" height="24.75" fill="#804611"/><rect x="163.65" y="684.5" width="24.75" height="24.75" fill="#9b6018"/><rect x="187.9" y="684.5" width="24.75" height="24.75" fill="#804611"/><rect x="212.15" y="684.5" width="36.75" height="24.75" fill="#804611"/><rect x="30.4" y="708.75" width="36.75" height="36.75" fill="#804611"/><rect x="66.65" y="708.75" width="24.75" height="36.75" fill="#804611"/><rect x="90.9" y="708.75" width="24.75" height="36.75" fill="#804611"/><rect x="115.15" y="708.75" width="24.75" height="36.75" fill="#804611"/><rect x="139.4" y="708.75" width="24.75" height="36.75" fill="#804611"/><rect x="163.65" y="708.75" width="24.75" height="36.75" fill="#804611"/><rect x="187.9" y="708.75" width="24.75" height="36.75" fill="#9b6018"/><rect x="212.15" y="708.75" width="36.75" height="36.75" fill="#804611"/></g><ellipse cx="100" cy="580" rx="14" ry="12" fill="#4a1a05" filter="url(#b5)"/><ellipse cx="120" cy="585" rx="22" ry="20" fill="#5a2406" filter="url(#b8)"/><path d="M111,541 L99,556 L85,568 L76,573" fill="none" stroke="#eace5a" stroke-width="8" stroke-linecap="round" stroke-linejoin="round" filter="url(#b2)"/><ellipse cx="113" cy="596" rx="6" ry="5" fill="#2e0a02" filter="url(#b2)"/><path d="M102,636 L122,622 L139,608 L156,596" fill="none" stroke="#d6ae42" stroke-width="6" stroke-linecap="round" stroke-linejoin="round" filter="url(#b2)"/><path d="M172,545 L179,568 L186,600 L188,625" fill="none" stroke="#3e1404" stroke-width="10" stroke-linecap="round" stroke-linejoin="round" filter="url(#b4)"/><ellipse cx="214" cy="605" rx="7" ry="10" fill="#e0b848" filter="url(#b3)"/><path d="M233,568 L233,653" fill="none" stroke="#3a1004" stroke-width="4" stroke-linecap="round" stroke-linejoin="round" filter="url(#b2)"/><path d="M116,639 L94,668 L71,688 L59,699" fill="none" stroke="#4a1a05" stroke-width="11" stroke-linecap="round" stroke-linejoin="round" filter="url(#b4)"/><ellipse cx="156" cy="660" rx="6" ry="12" fill="#2e0a02" filter="url(#b4)"/><ellipse cx="85" cy="699" rx="7" ry="7" fill="#d8b048" filter="url(#b2)"/><ellipse cx="139" cy="573" rx="8" ry="14" fill="#c89838" filter="url(#b5)"/><rect x="42.4" y="539" width="194" height="193.4" filter="url(#tex)" opacity="0.4"/></g>
<rect x="43.4" y="540" width="192" height="191.4" fill="none" stroke="#000" stroke-width="2"/>
<line x1="192.3" y1="715.4" x2="231.2" y2="715.4" stroke="#fff" stroke-width="1.8"/>
<line x1="193" y1="712.4" x2="193" y2="718.4" stroke="#fff" stroke-width="1.5"/>
<line x1="230.5" y1="712.4" x2="230.5" y2="718.4" stroke="#fff" stroke-width="1.5"/>
<text x="211.9" y="726.3" style="font-family:&quot;Liberation Sans&quot;,sans-serif;font-size:7.5px;font-weight:normal;" text-anchor="middle" fill="#f4f0e0">1 µm</text>
<text x="50.8" y="571" style="font-family:&quot;Liberation Sans&quot;,sans-serif;font-size:26px;font-weight:bold;" text-anchor="start" fill="#fff" textLength="31.5" lengthAdjust="spacingAndGlyphs">(e)</text>
<rect x="241" y="540" width="11" height="190.7" fill="url(#cb)" stroke="#000" stroke-width="2"/>
<line x1="252.5" y1="556.7" x2="254.8" y2="556.7" stroke="#000" stroke-width="1.6"/>
<line x1="252.5" y1="584.4" x2="254.8" y2="584.4" stroke="#000" stroke-width="1.6"/>
<line x1="252.5" y1="611.7" x2="254.8" y2="611.7" stroke="#000" stroke-width="1.6"/>
<line x1="252.5" y1="639.3" x2="254.8" y2="639.3" stroke="#000" stroke-width="1.6"/>
<line x1="252.5" y1="666.6" x2="254.8" y2="666.6" stroke="#000" stroke-width="1.6"/>
<line x1="252.5" y1="694.3" x2="254.8" y2="694.3" stroke="#000" stroke-width="1.6"/>
<text x="255.6" y="548.3" style="font-family:&quot;Liberation Sans&quot;,sans-serif;font-size:8px;font-weight:normal;" text-anchor="start" fill="#222">480 nm</text>
<text x="268.5" y="564.5" style="font-family:&quot;Liberation Sans&quot;,sans-serif;font-size:8px;font-weight:normal;" text-anchor="end" fill="#222">450</text>
<text x="268.5" y="591.6" style="font-family:&quot;Liberation Sans&quot;,sans-serif;font-size:8px;font-weight:normal;" text-anchor="end" fill="#222">400</text>
<text x="268.5" y="618.9" style="font-family:&quot;Liberation Sans&quot;,sans-serif;font-size:8px;font-weight:normal;" text-anchor="end" fill="#222">350</text>
<text x="268.5" y="646" style="font-family:&quot;Liberation Sans&quot;,sans-serif;font-size:8px;font-weight:normal;" text-anchor="end" fill="#222">300</text>
<text x="268.5" y="673.7" style="font-family:&quot;Liberation Sans&quot;,sans-serif;font-size:8px;font-weight:normal;" text-anchor="end" fill="#222">250</text>
<text x="268.5" y="701.5" style="font-family:&quot;Liberation Sans&quot;,sans-serif;font-size:8px;font-weight:normal;" text-anchor="end" fill="#222">200</text>
<text x="268.5" y="728.2" style="font-family:&quot;Liberation Sans&quot;,sans-serif;font-size:8px;font-weight:normal;" text-anchor="end" fill="#222">130</text>
<g clip-path="url(#cg)"><g filter="url(#b6)"><rect x="33.3" y="749" width="36.79" height="36.79" fill="#cda437"/><rect x="69.59" y="749" width="24.79" height="36.79" fill="#cda437"/><rect x="93.88" y="749" width="24.79" height="36.79" fill="#652e0b"/><rect x="118.16" y="749" width="24.79" height="36.79" fill="#f0e46e"/><rect x="142.45" y="749" width="24.79" height="36.79" fill="#cda437"/><rect x="166.74" y="749" width="24.79" height="36.79" fill="#481907"/><rect x="191.03" y="749" width="24.79" height="36.79" fill="#e5ce56"/><rect x="215.31" y="749" width="36.79" height="36.79" fill="#cda437"/><rect x="33.3" y="785.29" width="36.79" height="24.79" fill="#b47f24"/><rect x="69.59" y="785.29" width="24.79" height="24.79" fill="#9b6018"/><rect x="93.88" y="785.29" width="24.79" height="24.79" fill="#481907"/><rect x="118.16" y="785.29" width="24.79" height="24.79" fill="#e5ce56"/><rect x="142.45" y="785.29" width="24.79" height="24.79" fill="#9b6018"/><rect x="166.74" y="785.29" width="24.79" height="24.79" fill="#652e0b"/><rect x="191.03" y="785.29" width="24.79" height="24.79" fill="#e5ce56"/><rect x="215.31" y="785.29" width="36.79" height="24.79" fill="#9b6018"/><rect x="33.3" y="809.58" width="36.79" height="24.79" fill="#9b6018"/><rect x="69.59" y="809.58" width="24.79" height="24.79" fill="#9b6018"/><rect x="93.88" y="809.58" width="24.79" height="24.79" fill="#804611"/><rect x="118.16" y="809.58" width="24.79" height="24.79" fill="#b47f24"/><rect x="142.45" y="809.58" width="24.79" height="24.79" fill="#9b6018"/><rect x="166.74" y="809.58" width="24.79" height="24.79" fill="#652e0b"/><rect x="191.03" y="809.58" width="24.79" height="24.79" fill="#cda437"/><rect x="215.31" y="809.58" width="36.79" height="24.79" fill="#9b6018"/><rect x="33.3" y="833.86" width="36.79" height="24.79" fill="#9b6018"/><rect x="69.59" y="833.86" width="24.79" height="24.79" fill="#9b6018"/><rect x="93.88" y="833.86" width="24.79" height="24.79" fill="#9b6018"/><rect x="118.16" y="833.86" width="24.79" height="24.79" fill="#481907"/><rect x="142.45" y="833.86" width="24.79" height="24.79" fill="#9b6018"/><rect x="166.74" y="833.86" width="24.79" height="24.79" fill="#652e0b"/><rect x="191.03" y="833.86" width="24.79" height="24.79" fill="#b47f24"/><rect x="215.31" y="833.86" width="36.79" height="24.79" fill="#9b6018"/><rect x="33.3" y="858.15" width="36.79" height="24.79" fill="#804611"/><rect x="69.59" y="858.15" width="24.79" height="24.79" fill="#cda437"/><rect x="93.88" y="858.15" width="24.79" height="24.79" fill="#481907"/><rect x="118.16" y="858.15" width="24.79" height="24.79" fill="#cda437"/><rect x="142.45" y="858.15" width="24.79" height="24.79" fill="#9b6018"/><rect x="166.74" y="858.15" width="24.79" height="24.79" fill="#804611"/><rect x="191.03" y="858.15" width="24.79" height="24.79" fill="#9b6018"/><rect x="215.31" y="858.15" width="36.79" height="24.79" fill="#9b6018"/><rect x="33.3" y="882.44" width="36.79" height="24.79" fill="#b47f24"/><rect x="69.59" y="882.44" width="24.79" height="24.79" fill="#9b6018"/><rect x="93.88" y="882.44" width="24.79" height="24.79" fill="#652e0b"/><rect x="118.16" y="882.44" width="24.79" height="24.79" fill="#b47f24"/><rect x="142.45" y="882.44" width="24.79" height="24.79" fill="#b47f24"/><rect x="166.74" y="882.44" width="24.79" height="24.79" fill="#652e0b"/><rect x="191.03" y="882.44" width="24.79" height="24.79" fill="#9b6018"/><rect x="215.31" y="882.44" width="36.79" height="24.79" fill="#9b6018"/><rect x="33.3" y="906.73" width="36.79" height="24.79" fill="#9b6018"/><rect x="69.59" y="906.73" width="24.79" height="24.79" fill="#652e0b"/><rect x="93.88" y="906.73" width="24.79" height="24.79" fill="#9b6018"/><rect x="118.16" y="906.73" width="24.79" height="24.79" fill="#9b6018"/><rect x="142.45" y="906.73" width="24.79" height="24.79" fill="#9b6018"/><rect x="166.74" y="906.73" width="24.79" height="24.79" fill="#9b6018"/><rect x="191.03" y="906.73" width="24.79" height="24.79" fill="#804611"/><rect x="215.31" y="906.73" width="36.79" height="24.79" fill="#9b6018"/><rect x="33.3" y="931.01" width="36.79" height="36.79" fill="#652e0b"/><rect x="69.59" y="931.01" width="24.79" height="36.79" fill="#cda437"/><rect x="93.88" y="931.01" width="24.79" height="36.79" fill="#9b6018"/><rect x="118.16" y="931.01" width="24.79" height="36.79" fill="#804611"/><rect x="142.45" y="931.01" width="24.79" height="36.79" fill="#652e0b"/><rect x="166.74" y="931.01" width="24.79" height="36.79" fill="#9b6018"/><rect x="191.03" y="931.01" width="24.79" height="36.79" fill="#9b6018"/><rect x="215.31" y="931.01" width="36.79" height="36.79" fill="#9b6018"/></g><ellipse cx="139" cy="783" rx="8" ry="14" fill="#ecd462" filter="url(#b4)"/><path d="M119,804 L114,832 L108,861 L102,890 L97,918 L91,947" fill="none" stroke="#4a1a05" stroke-width="10" stroke-linecap="round" stroke-linejoin="round" filter="url(#b3)"/><path d="M114,798 L102,818 L94,844 L82,870 L74,881 L62,893" fill="none" stroke="#ecd05c" stroke-width="6" stroke-linecap="round" stroke-linejoin="round" filter="url(#b2)"/><path d="M180,761 L182,790 L188,818 L194,847 L200,890 L205,918 L206,940" fill="none" stroke="#3e1404" stroke-width="11" stroke-linecap="round" stroke-linejoin="round" filter="url(#b4)"/><ellipse cx="217" cy="778" rx="6" ry="12" fill="#e8d060" filter="url(#b4)"/><path d="M237,762 L237,957" fill="none" stroke="#4a1a05" stroke-width="5" stroke-linecap="round" stroke-linejoin="round" filter="url(#b2)"/><path d="M88,898 L74,921 L62,938 L54,957" fill="none" stroke="#3e1404" stroke-width="4" stroke-linecap="round" stroke-linejoin="round" filter="url(#b2)"/><path d="M82,910 L74,933 L68,957" fill="none" stroke="#dcbc4c" stroke-width="5" stroke-linecap="round" stroke-linejoin="round" filter="url(#b2)"/><path d="M102,761 L99,790 L93,818" fill="none" stroke="#5a2406" stroke-width="6" stroke-linecap="round" stroke-linejoin="round" filter="url(#b3)"/><path d="M139,790 L133,818 L130,861 L132,904 L135,947" fill="none" stroke="#c89838" stroke-width="16" stroke-linecap="round" stroke-linejoin="round" filter="url(#b6)"/><path d="M216,770 L218,820 L221,870 L222,900" fill="none" stroke="#cc9c3e" stroke-width="12" stroke-linecap="round" stroke-linejoin="round" filter="url(#b5)"/><path d="M154,820 L154,875" fill="none" stroke="#8a4a14" stroke-width="8" stroke-linecap="round" stroke-linejoin="round" filter="url(#b5)"/><rect x="45.3" y="761" width="194.3" height="193.3" filter="url(#tex)" opacity="0.4"/></g>
<rect x="46.3" y="762" width="192.3" height="191.3" fill="none" stroke="#000" stroke-width="2"/>
<line x1="195.4" y1="937.5" x2="233.4" y2="937.5" stroke="#fff" stroke-width="1.8"/>
<line x1="196.1" y1="934.5" x2="196.1" y2="940.5" stroke="#fff" stroke-width="1.5"/>
<line x1="232.7" y1="934.5" x2="232.7" y2="940.5" stroke="#fff" stroke-width="1.5"/>
<text x="214.7" y="948.8" style="font-family:&quot;Liberation Sans&quot;,sans-serif;font-size:7.5px;font-weight:normal;" text-anchor="middle" fill="#f4f0e0">1 µm</text>
<text x="53.7" y="790" style="font-family:&quot;Liberation Sans&quot;,sans-serif;font-size:26px;font-weight:bold;" text-anchor="start" fill="#fff" textLength="30.5" lengthAdjust="spacingAndGlyphs">(g)</text>
<rect x="244.1" y="762.6" width="10.4" height="190.1" fill="url(#cb)" stroke="#000" stroke-width="2"/>
<line x1="255" y1="779.5" x2="257.3" y2="779.5" stroke="#000" stroke-width="1.6"/>
<line x1="255" y1="806" x2="257.3" y2="806" stroke="#000" stroke-width="1.6"/>
<line x1="255" y1="831" x2="257.3" y2="831" stroke="#000" stroke-width="1.6"/>
<line x1="255" y1="856" x2="257.3" y2="856" stroke="#000" stroke-width="1.6"/>
<line x1="255" y1="880.5" x2="257.3" y2="880.5" stroke="#000" stroke-width="1.6"/>
<line x1="255" y1="905.5" x2="257.3" y2="905.5" stroke="#000" stroke-width="1.6"/>
<line x1="255" y1="930" x2="257.3" y2="930" stroke="#000" stroke-width="1.6"/>
<text x="258" y="770.3" style="font-family:&quot;Liberation Sans&quot;,sans-serif;font-size:8px;font-weight:normal;" text-anchor="start" fill="#222">466 nm</text>
<text x="270.9" y="801.9" style="font-family:&quot;Liberation Sans&quot;,sans-serif;font-size:8px;font-weight:normal;" text-anchor="end" fill="#222">400</text>
<text x="270.9" y="825.9" style="font-family:&quot;Liberation Sans&quot;,sans-serif;font-size:8px;font-weight:normal;" text-anchor="end" fill="#222">350</text>
<text x="270.9" y="849.9" style="font-family:&quot;Liberation Sans&quot;,sans-serif;font-size:8px;font-weight:normal;" text-anchor="end" fill="#222">300</text>
<text x="270.9" y="874.4" style="font-family:&quot;Liberation Sans&quot;,sans-serif;font-size:8px;font-weight:normal;" text-anchor="end" fill="#222">250</text>
<text x="270.9" y="898.9" style="font-family:&quot;Liberation Sans&quot;,sans-serif;font-size:8px;font-weight:normal;" text-anchor="end" fill="#222">200</text>
<text x="270.9" y="923.1" style="font-family:&quot;Liberation Sans&quot;,sans-serif;font-size:8px;font-weight:normal;" text-anchor="end" fill="#222">150</text>
<text x="270.9" y="950.8" style="font-family:&quot;Liberation Sans&quot;,sans-serif;font-size:8px;font-weight:normal;" text-anchor="end" fill="#222">70</text>
</svg></body></html>
